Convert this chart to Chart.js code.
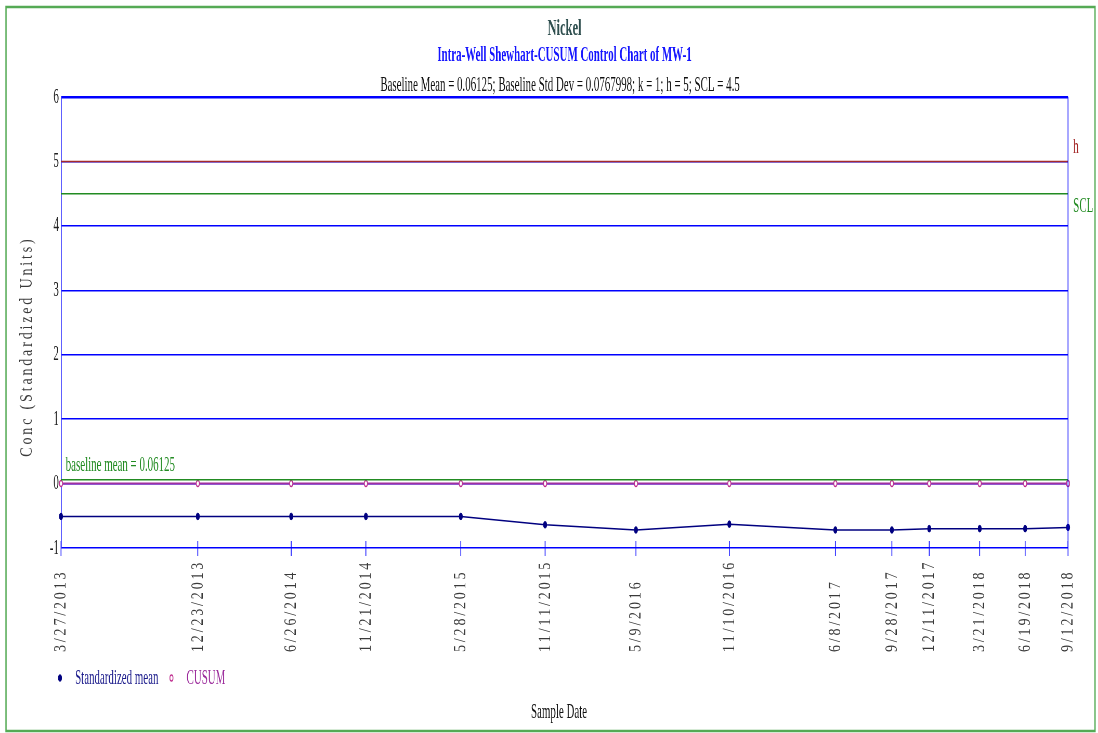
<!DOCTYPE html>
<html>
<head>
<meta charset="utf-8">
<title>Nickel - Intra-Well Shewhart-CUSUM Control Chart of MW-1</title>
<script src="https://cdn.jsdelivr.net/npm/chart.js@4.4.1/dist/chart.umd.min.js"></script>
<style>
  html, body { margin: 0; padding: 0; background: #fff; overflow: hidden; }
  /* o grafico original tem o texto "apertado" na horizontal: desenha largo e comprime */
  #wrap { width: 2112px; height: 733px; transform: scaleX(0.5199); transform-origin: 0 0; }
</style>
</head>
<body>
<div id="wrap"><canvas id="grafico" width="2112" height="733"></canvas></div>
<script>
// dados
const sampleDates = ["3/27/2013", "12/23/2013", "6/26/2014", "11/21/2014", "5/28/2015", "11/11/2015",
  "5/9/2016", "11/10/2016", "6/8/2017", "9/28/2017", "12/11/2017", "3/21/2018", "6/19/2018", "9/12/2018"];
const standardizedMean = [-0.51, -0.51, -0.51, -0.51, -0.51, -0.64, -0.72, -0.63, -0.72, -0.72, -0.70, -0.70, -0.70, -0.68];
const cusum = [0, 0, 0, 0, 0, 0, 0, 0, 0, 0, 0, 0, 0, 0];
const baselineMean = 0.06125;
const hLimit = 5;
const sclLimit = 4.5;
const yMin = -1;
const yMax = 6;

const titulo = "Nickel";
const subtitulo = "Intra-Well Shewhart-CUSUM Control Chart of MW-1";
const info = "Baseline Mean = 0.06125; Baseline Std Dev = 0.0767998; k = 1; h = 5; SCL = 4.5";
const tituloY = "Conc (Standardized Units)";
const tituloX = "Sample Date";

const S = 1098 / 2112;           // fator de compressao horizontal
const fx = px => px / S;          // px da tela -> px do canvas
const FONTE = "'Liberation Serif', 'Times New Roman', serif";

function diaDe(s) {
    const [m, d, a] = s.split("/").map(Number);
    return Date.UTC(a, m - 1, d) / 86400000;
}
const xDias = sampleDates.map(diaDe);
const pontos = vals => vals.map((v, i) => ({ x: xDias[i], y: v }));
const linhaConst = v => [{ x: xDias[0], y: v }, { x: xDias[xDias.length - 1], y: v }];

// texto vertical: letras espacadas, sem a compressao da largura
function larguraEspacada(ctx, texto, esp) {
    let w = 0;
    for (const ch of texto) w += ctx.measureText(ch).width + esp;
    return w - esp;
}
function textoVertical(ctx, texto, x, y, centro) {
    const esp = 3.8;
    ctx.save();
    ctx.font = "19px " + FONTE;
    ctx.fillStyle = "#3a3a3a";
    ctx.translate(x, y);
    ctx.rotate(-Math.PI / 2);
    ctx.scale(0.74, 0.95 / S);
    ctx.textAlign = "left";
    ctx.textBaseline = "middle";
    let cx = centro ? -larguraEspacada(ctx, texto, esp) / 2 : 0;
    for (const ch of texto) {
        ctx.fillText(ch, cx, 0);
        cx += ctx.measureText(ch).width + esp;
    }
    ctx.restore();
}

Chart.defaults.font.family = FONTE;
Chart.defaults.color = "#222";

const extras = {
    id: "extras",
    afterDraw(chart) {
        const { ctx, chartArea: a, scales: { x, y } } = chart;
        ctx.save();

        // moldura verde
        ctx.strokeStyle = "#55aa55";
        ctx.lineWidth = 2.5;
        ctx.strokeRect(fx(6), 7, fx(1095) - fx(6), 724);

        // borda direita da area
        ctx.strokeStyle = "#0000ff";
        ctx.lineWidth = 1.5;
        ctx.beginPath();
        ctx.moveTo(a.right, a.top);
        ctx.lineTo(a.right, a.bottom);
        ctx.stroke();

        // marcas do eixo x e rotulos de data
        x.ticks.forEach((t, i) => {
            const px = x.getPixelForValue(t.value);
            ctx.beginPath();
            ctx.moveTo(px, a.bottom - 7);
            ctx.lineTo(px, a.bottom + 8);
            ctx.stroke();
            textoVertical(ctx, sampleDates[i], px, 652, false);
        });

        // titulo do eixo y
        textoVertical(ctx, tituloY, fx(27), 348, true);

        // terceira linha do titulo
        ctx.font = "21px " + FONTE;
        ctx.textAlign = "center";
        ctx.textBaseline = "alphabetic";
        ctx.fillStyle = "#111";
        ctx.fillText(info, fx(560), 91);

        // titulo do eixo x
        ctx.fillText(tituloX, fx(559), 718);

        // rotulos das linhas de controle
        ctx.textAlign = "left";
        ctx.fillStyle = "#a52a2a";
        ctx.fillText("h", a.right + 10, y.getPixelForValue(hLimit) - 8);
        ctx.fillStyle = "#228b22";
        ctx.fillText("SCL", a.right + 10, y.getPixelForValue(sclLimit) + 18);
        ctx.fillText("baseline mean = " + baselineMean, a.left + 9, y.getPixelForValue(baselineMean) - 9);

        // legenda
        let lx = fx(60);
        const ly = 678;
        chart.data.datasets.filter(d => d.naLegenda).forEach(d => {
            ctx.beginPath();
            ctx.arc(lx, ly, d.pointRadius, 0, Math.PI * 2);
            ctx.fillStyle = d.pointBackgroundColor;
            ctx.fill();
            ctx.lineWidth = d.pointBorderWidth;
            ctx.strokeStyle = d.pointBorderColor;
            ctx.stroke();
            ctx.fillStyle = d.corLegenda;
            ctx.textBaseline = "middle";
            ctx.fillText(d.label, lx + 29, ly);
            lx += 29 + ctx.measureText(d.label).width + 25;
        });

        ctx.restore();
    }
};

new Chart(document.getElementById("grafico"), {
    type: "line",
    data: {
        datasets: [
            {
                label: "h", data: linhaConst(hLimit),
                borderColor: "#a52a2a", borderWidth: 1.5, pointRadius: 0, clip: false
            },
            {
                label: "SCL", data: linhaConst(sclLimit),
                borderColor: "#228b22", borderWidth: 1.5, pointRadius: 0, clip: false
            },
            {
                label: "baseline mean", data: linhaConst(baselineMean),
                borderColor: "#228b22", borderWidth: 1.5, pointRadius: 0, clip: false
            },
            {
                label: "Standardized mean", data: pontos(standardizedMean), naLegenda: true, corLegenda: "#1c1c8c",
                borderColor: "#000080", borderWidth: 1.5,
                pointRadius: 3.3, pointBorderWidth: 1, pointBorderColor: "#000080",
                pointBackgroundColor: "#000080", clip: false
            },
            {
                label: "CUSUM", data: pontos(cusum), naLegenda: true, corLegenda: "#9b2a9b",
                borderColor: "#a030a0", borderWidth: 2,
                pointRadius: 3, pointBorderWidth: 1.5, pointBorderColor: "#c03090",
                pointBackgroundColor: "#ffffff", clip: false
            }
        ]
    },
    options: {
        responsive: false,
        animation: false,
        layout: { padding: { top: 0, left: 0, right: 2112 - fx(1068), bottom: 0 } },
        plugins: {
            legend: { display: false },
            tooltip: { enabled: false },
            title: {
                display: true, text: titulo, color: "#2f4f4f", fullSize: false,
                font: { size: 24, weight: "bold" }, padding: { top: 14, bottom: 0 }
            },
            subtitle: {
                display: true, text: subtitulo, color: "#1414ff", fullSize: false,
                font: { size: 21, weight: "bold" }, padding: { top: 0.5, bottom: 28.5 }
            }
        },
        scales: {
            x: {
                type: "linear",
                min: xDias[0],
                max: xDias[xDias.length - 1],
                ticks: { display: false },
                grid: { display: false },
                border: { display: false },
                afterBuildTicks: s => { s.ticks = xDias.map(v => ({ value: v })); },
                afterFit: s => { s.height = 733 - 548; }
            },
            y: {
                min: yMin,
                max: yMax,
                ticks: { stepSize: 1, padding: 4, color: "#222", font: { size: 21 } },
                grid: {
                    color: "#0000ff",
                    drawTicks: false,
                    lineWidth: c => (c.tick && c.tick.value === yMax ? 2.5 : 1.5)
                },
                border: { color: "#0000ff", width: 1.5 },
                afterFit: s => { s.width = fx(61); }
            }
        }
    },
    plugins: [extras]
});
</script>
</body>
</html>
